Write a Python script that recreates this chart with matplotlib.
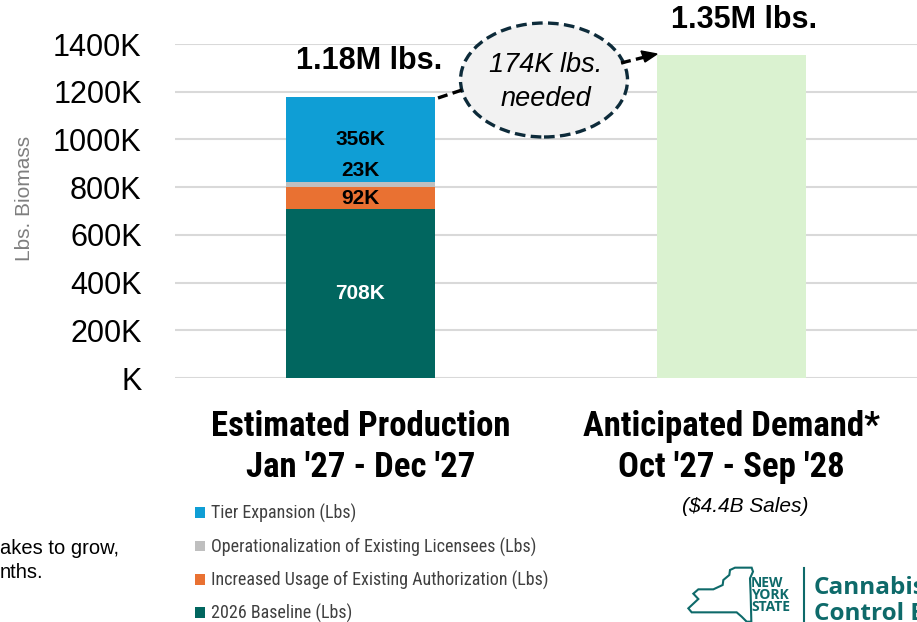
import matplotlib
matplotlib.use("Agg")
import matplotlib.pyplot as plt
from matplotlib import font_manager
from matplotlib.patches import Ellipse, Polygon, Patch
import matplotlib.lines as mlines

# ---------------- data ----------------
categories = ["Estimated Production\nJan '27 - Dec '27", "Anticipated Demand*\nOct '27 - Sep '28"]
series_names = ["2026 Baseline (Lbs)",
                "Increased Usage of Existing Authorization (Lbs)",
                "Operationalization of Existing Licensees (Lbs)",
                "Tier Expansion (Lbs)"]
production_k = [708, 92, 23, 356]          # stacked segments (K lbs)
segment_labels = ["708K", "92K", "23K", "356K"]
demand_k = [1353]
total_labels = ["1.18M lbs.", "1.35M lbs."]
gap_label = "174K lbs.\nneeded"
yticks = [0, 200, 400, 600, 800, 1000, 1200, 1400]
ytick_labels = ["K", "200K", "400K", "600K", "800K", "1000K", "1200K", "1400K"]

colors = ["#01665f", "#e97132", "#bfbfbf", "#0f9ed5"]
demand_color = "#daf2d0"
teal = "#0e6a6a"

names = {f.name for f in font_manager.fontManager.ttflist}
cond = next((n for n in ["Liberation Sans Narrow", "Roboto Condensed", "Open Sans Condensed",
                         "Arial Narrow"] if n in names), "DejaVu Sans")
arial = "Liberation Sans" if "Liberation Sans" in names else "DejaVu Sans"

W, H = 917, 622
fig = plt.figure(figsize=(W / 100, H / 100), dpi=100)

def fx(x):
    return x / W

def fy(y):
    return 1 - y / H

ax = fig.add_axes([fx(175), fy(378), fx(917) - fx(175), fy(44) - fy(378)])
ax.set_xlim(-0.5, 1.5)
ax.set_ylim(0, 1400)

x = [0, 1]
bw = 0.4
bottom = 0
for val, col, name in zip(production_k, colors, series_names):
    ax.bar(x[0], val, bw, bottom=bottom, color=col, label=name, zorder=3)
    bottom += val
ax.bar(x[1], demand_k[0], bw, color=demand_color, zorder=3)

# segment labels
cum = 0
seg_pos = []
for v in production_k:
    seg_pos.append(cum + v / 2)
    cum += v
txtkw = dict(ha="center", va="center", fontsize=15, fontweight="bold", family=arial, zorder=5)
ax.text(x[0], seg_pos[0], segment_labels[0], color="white", **txtkw)
ax.text(x[0], seg_pos[1], segment_labels[1], color="black", **txtkw)
ax.text(x[0], sum(production_k[:3]) + 45, segment_labels[2], color="black", **txtkw)
ax.text(x[0], sum(production_k[:3]) + 175, segment_labels[3], color="black", **txtkw)

# totals
prod_total = sum(production_k)
ax.text(x[0] + 0.023, prod_total + 149, total_labels[0], ha="center", va="center",
        fontsize=22, fontweight="bold", family=arial, clip_on=False)
ax.text(x[1] + 0.035, demand_k[0] + 147, total_labels[1], ha="center", va="center",
        fontsize=22, fontweight="bold", family=arial, clip_on=False)

# axes styling
ax.set_yticks(yticks)
ax.set_yticklabels(ytick_labels, fontsize=22, family=arial)
ax.yaxis.grid(True, color="#d9d9d9", linewidth=1.5, zorder=0)
ax.set_axisbelow(True)
for s in ax.spines.values():
    s.set_visible(False)
ax.tick_params(axis="y", length=0, pad=24)
ax.tick_params(axis="x", length=0, pad=23)
ax.set_xticks(x)
ax.set_xticklabels(categories, fontsize=25, fontweight="bold", family=cond, linespacing=1.3)

fig.text(fx(25), fy(198), "Lbs. Biomass", rotation=90, ha="center", va="center",
         fontsize=15, color="#7f7f7f", family=arial)

# ellipse callout
ell = Ellipse((fx(544), fy(80)), fx(167), 114 / H, transform=fig.transFigure,
              facecolor="#f2f2f2", edgecolor="#0d2b3a", linewidth=2.4,
              linestyle=(0, (3.2, 1.6)), zorder=6)
fig.add_artist(ell)
fig.text(fx(546), fy(82), gap_label, ha="center", va="center", fontsize=19.5,
         style="italic", family=arial, linespacing=1.35, zorder=7)
fig.add_artist(mlines.Line2D([fx(438), fx(462)], [fy(98), fy(90)], transform=fig.transFigure,
                             color="black", linewidth=2.4, linestyle=(0, (3, 1.6)), zorder=6))
fig.add_artist(mlines.Line2D([fx(621), fx(645)], [fy(63), fy(57)], transform=fig.transFigure,
                             color="black", linewidth=2.4, linestyle=(0, (3, 1.6)), zorder=6))
fig.add_artist(Polygon([(fx(657), fy(54)), (fx(641), fy(51)), (fx(645), fy(62))],
                       closed=True, transform=fig.transFigure, color="black", zorder=6))

# sub label
fig.text(fx(745), fy(506), "($4.4B Sales)", ha="center", va="center", fontsize=15,
         style="italic", family=arial)

# legend
handles = [Patch(facecolor=c) for c in colors[::-1]]
fig.legend(handles, series_names[::-1], loc="upper left",
           bbox_to_anchor=(fx(188), fy(497)), frameon=False,
           prop={"family": cond, "size": 13}, labelcolor="#404040",
           handlelength=0.55, handleheight=0.55, handletextpad=0.3,
           labelspacing=0.78, borderaxespad=0)

# clipped footnote
fig.text(fx(0), fy(548), "akes to grow,", ha="left", va="center", fontsize=14.5, family=arial)
fig.text(fx(0), fy(573), "nths.", ha="left", va="center", fontsize=14.5, family=arial)

# logo
zpts = [(150, 45), (165, 38), (215, 38), (219, 50), (210, 70), (212, 120), (214, 200),
        (200, 200), (185, 185), (170, 172), (35, 172), (25, 160), (55, 132), (40, 116),
        (55, 103), (100, 103), (128, 90), (130, 75), (148, 60)]
fig.add_artist(Polygon([(fx(680 + a / 3), fy(555 + b / 3)) for a, b in zpts], closed=True,
                       transform=fig.transFigure, fill=False, edgecolor=teal, linewidth=1.5))
fig.text(fx(751), fy(595), "NEW\nYORK\nSTATE", ha="left", va="center", fontsize=10,
         fontweight="bold", color=teal, family="Open Sans", linespacing=0.85)
fig.add_artist(mlines.Line2D([fx(804), fx(804)], [fy(568), fy(622)], transform=fig.transFigure,
                             color=teal, linewidth=1.5))
fig.text(fx(814), fy(594), "Cannabis", ha="left", va="baseline", fontsize=17.5,
         fontweight="bold", color=teal, family="Open Sans")
fig.text(fx(814), fy(620), "Control Board", ha="left", va="baseline", fontsize=17.5,
         fontweight="bold", color=teal, family="Open Sans")

fig.savefig("out.png", dpi=100)
